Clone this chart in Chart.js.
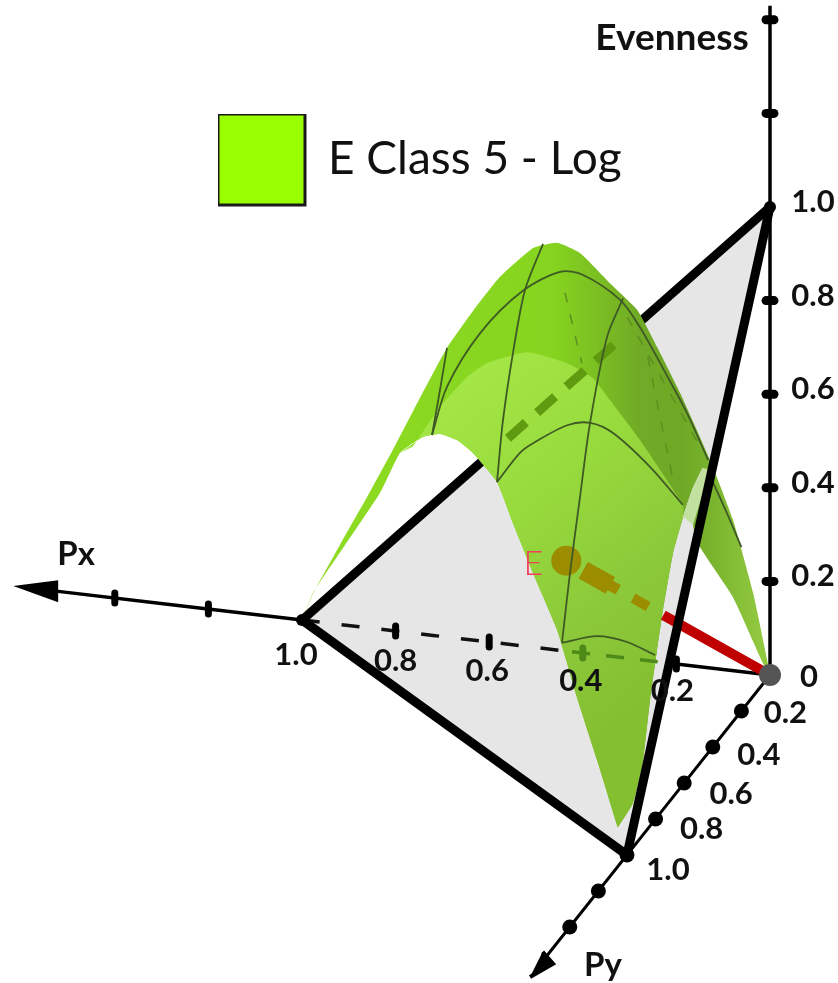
<!DOCTYPE html>
<html>
<head>
<meta charset="utf-8">
<title>E Class 5 - Log</title>
<style>
  body { margin: 0; background: #fff; }
  canvas { display: block; }
</style>
<script src="https://cdn.jsdelivr.net/npm/chart.js@4/dist/chart.umd.min.js"></script>
</head>
<body>
<canvas id="evennessChart" width="838" height="983"></canvas>
<script>
// axis ticks
const axisTicks = [0.2, 0.4, 0.6, 0.8, 1.0];
const axisTicksBeyond = [1.2, 1.4];
const tickLabels = ['0.2', '0.4', '0.6', '0.8', '1.0'];

// surface edge over Py = 0, from Px = 1 to the origin
const backArchPx = [1, .976, .919, .863, .806, .748, .690, .630, .577, .506, .455, .406, .342, .284, .241, .192, .128, .079, .036, .006, 0];
const backArchE = [0, .060, .170, .275, .386, .504, .618, .710, .783, .853, .870, .854, .797, .747, .672, .580, .444, .322, .171, .031, 0];

// surface edge over Px = 0, lower part seen right of the black line
const stripPy = [.049, .259, .490, .538];
const stripE = [.044, .266, .462, .528];

// surface edge over Px = 0, upper part down to the Py = 1 corner
const frontRightPy = [.469, .545, .608, .678, .748, .790, .839, .888, .958, 1];
const frontRightPx = [0, 0, 0, 0, 0, 0, 0, 0, 0, .02];
const frontRightE = [.623, .605, .572, .521, .427, .357, .269, .160, .095, .056];

// surface edge over Px + Py = 1
const frontLeftPx = [1, .966, .760, .698, .628, .575, .523, .474, .400, .351, .289, .215, .154, .092, .028];
const frontLeftE = [0, .075, .392, .509, .578, .611, .624, .621, .596, .533, .457, .373, .260, .157, .044];

// lighter lobe of the surface, its top edge at Py = 0.4
const lobePx = [.641, .583, .525, .482, .397, .312, .256, .220, .156, .064];
const lobeE = [.566, .658, .729, .764, .797, .784, .758, .716, .638, .510];

// mesh lines on the surface
const meshPy04Px = [.600, .568, .497, .406, .326, .277, .198, .156, .102, .055, .010];
const meshPy04E = [.596, .703, .826, .927, .977, .976, .932, .879, .789, .707, .612];
const meshPy06Px = [.400, .351, .323, .250, .201, .152, .073, .003];
const meshPy06E = [.596, .664, .688, .735, .746, .730, .667, .594];
const meshPy08Px = [.200, .125, .061, .001];
const meshPy08E = [.353, .376, .371, .350];
const meshPy02Px = [.061, .029, 0];
const meshPy02E = [.482, .415, .350];
const meshPx04Py = [.278, .404, .488, .558, .600];
const meshPx04E = [.981, .931, .829, .712, .596];
const meshPx02Py = [.373, .485, .604, .674, .744, .800];
const meshPx02E = [.925, .885, .747, .616, .481, .353];
const meshPx06Py = [.295, .344, .400];
const meshPx06E = [.742, .671, .596];

// mesh seen through the surface, at Py = 0.2
const hiddenPx = [[.377, .341], [.200, .146], [.244, .088]];
const hiddenE = [[.849, .703], [.733, .476], [.813, .554]];

// the E point
const pointPx = 1 / 3;
const pointPy = 1 / 3;
const pointE = 1 / 3;

const arrowPxPx = [1.617, 1.521, 1.521];
const arrowPxE = [0, .024, -.023];
const arrowPyPx = [0, -.004, 0];
const arrowPyPy = [1.678, 1.530, 1.590];
const arrowPyE = [0, -.028, .020];

const legendLabel = 'E Class 5 - Log';

function project(px, py, e) {
    return { x: -px - 0.3056 * py, y: 0.1175 * px - 0.3846 * py + e };
}

function curve(pxs, pys, es) {
    return es.map((e, i) => project(
        Array.isArray(pxs) ? pxs[i] : pxs,
        Array.isArray(pys) ? pys[i] : pys,
        e
    ));
}

// part of a straight line between two 3D points
function piece(from, to, t0, t1) {
    const at = t => project(
        from[0] + (to[0] - from[0]) * t,
        from[1] + (to[1] - from[1]) * t,
        from[2] + (to[2] - from[2]) * t
    );
    return [at(t0), at(t1)];
}

const ORIGIN = [0, 0, 0];
const CORNER_X = [1, 0, 0];
const CORNER_Y = [0, 1, 0];
const CORNER_E = [0, 0, 1];
const E_POINT = [pointPx, pointPy, pointE];

const canvas = document.getElementById('evennessChart');
const ctx = canvas.getContext('2d');

const backFill = ctx.createLinearGradient(300, 0, 760, 0);
backFill.addColorStop(0, '#8edc22');
backFill.addColorStop(0.55, '#86d41f');
backFill.addColorStop(0.74, '#70aa26');
backFill.addColorStop(0.83, '#6fa824');
backFill.addColorStop(0.9, '#7bb52e');
backFill.addColorStop(1, '#90c840');

const lobeFill = ctx.createLinearGradient(430, 350, 690, 660);
lobeFill.addColorStop(0, '#a8ea48');
lobeFill.addColorStop(0.45, '#97da3c');
lobeFill.addColorStop(0.75, '#8cc93a');
lobeFill.addColorStop(1, '#84bf30');

const polygon = (data, color, smooth, border) => ({
    data, showLine: true, fill: 'shape', backgroundColor: color,
    borderColor: color, borderWidth: border || 0, pointRadius: 0, tension: smooth || 0
});
const stroke = (data, color, width, dash) => ({
    data, showLine: true, fill: false, borderColor: color, borderWidth: width,
    borderDash: dash || [], pointRadius: 0, tension: 0.3, borderCapStyle: 'butt'
});
const dots = (data, radius, color) => ({
    data, showLine: false, pointRadius: radius, pointBorderWidth: 0, pointBackgroundColor: color
});
// short rounded bar across an axis at a tick, half lengths in view units
const tickBar = (at, halfX, halfY, width) => ({
    data: [{ x: at.x - halfX, y: at.y - halfY }, { x: at.x + halfX, y: at.y + halfY }],
    showLine: true, fill: false, borderColor: '#000', borderWidth: width,
    borderCapStyle: 'round', pointRadius: 0
});
const pxTick = v => tickBar(project(v, 0, 0), 0, 0.0107, 7);
const eTick = v => tickBar(project(0, 0, v), 0.0085, 0, 9);

const frontLeftRev = curve(frontLeftPx, frontLeftPx.map(p => 1 - p), frontLeftE).reverse();
const frontRight = curve(frontRightPx, frontRightPy, frontRightE);

const surfaceOutline = [
    ...curve(backArchPx, 0, backArchE),
    ...curve(0, stripPy, stripE),
    ...frontRight,
    ...frontLeftRev
];
const lobeOutline = [
    ...curve(lobePx, 0.4, lobeE),
    ...frontRight.slice(2),
    ...frontLeftRev.slice(0, 12)
];
const gapPatch = [
    ...frontRight.slice(0, 3),
    project(0, stripPy[3], stripE[3]),
    project(0, 0.42, 0.599)
];

// listed from back to front
const layers = [
    polygon([project(...CORNER_X), project(...CORNER_Y), project(...CORNER_E)], '#e6e6e6'),
    stroke(piece(ORIGIN, CORNER_X, 1, 1.53), '#000', 3.5),
    polygon(curve(arrowPxPx, 0, arrowPxE), '#000'),
    ...axisTicksBeyond.map(pxTick),
    stroke(piece(CORNER_X, ORIGIN, 0, 0.56), '#111', 3.5, [18, 22]),
    pxTick(axisTicks[3]),
    pxTick(axisTicks[2]),
    stroke(piece(CORNER_X, CORNER_E, 0, 1), '#000', 9),
    stroke(piece(ORIGIN, CORNER_X, 0, 0.2), '#000', 3.5),
    pxTick(axisTicks[0]),

    polygon(surfaceOutline, backFill, 0.15),
    polygon(lobeOutline, lobeFill, 0.15),
    polygon(gapPatch, '#c2e0a0'),

    stroke(piece(CORNER_X, CORNER_E, 0.44, 0.69), '#5f9a10', 9, [24, 15]),
    stroke(piece(ORIGIN, CORNER_X, 0.24, 0.44), '#4d8a18', 3.5, [18, 16]),
    { ...pxTick(axisTicks[1]), borderColor: '#4d8a18' },
    ...hiddenPx.map((px, i) => stroke(curve(px, 0.2, hiddenE[i]), '#5d8f20', 1.5, [10, 12])),

    stroke(piece(ORIGIN, E_POINT, 0.598, 0.672), '#9c8c00', 10),
    stroke(piece(ORIGIN, E_POINT, 0.745, 0.80), '#9c8c00', 11),
    stroke(piece(ORIGIN, E_POINT, 0.784, 0.917), '#9c8c00', 19),
    dots([project(...E_POINT)], 15, '#9c8c00'),

    stroke(curve(meshPy04Px, 0.4, meshPy04E), '#3f5a24', 1.8),
    stroke(curve(meshPy06Px, 0.6, meshPy06E), '#3f5a24', 1.8),
    stroke(curve(meshPy08Px, 0.8, meshPy08E), '#3f5a24', 1.8),
    stroke(curve(meshPy02Px, 0.2, meshPy02E), '#3f5a24', 1.8),
    stroke(curve(0.4, meshPx04Py, meshPx04E), '#3f5a24', 1.8),
    stroke(curve(0.2, meshPx02Py, meshPx02E), '#3f5a24', 1.8),
    stroke(curve(0.6, meshPx06Py, meshPx06E), '#3f5a24', 1.8),

    stroke(piece(ORIGIN, E_POINT, 0, 0.524), '#c00000', 10),

    stroke(piece(CORNER_X, CORNER_Y, 0, 1), '#000', 9),
    stroke(piece(CORNER_Y, CORNER_E, 0, 1), '#000', 9),
    stroke(piece(ORIGIN, CORNER_E, 0, 1.43), '#000', 3.5),
    ...axisTicks.slice(0, 4).concat(axisTicksBeyond).map(eTick),
    stroke(piece(ORIGIN, CORNER_Y, 0, 1.56), '#000', 3),
    polygon(curve(arrowPyPx, arrowPyPy, arrowPyE), '#000', 0, 4),
    dots(axisTicks.concat(axisTicksBeyond).map(v => project(0, v, 0)), 7.5, '#000'),
    dots([project(...CORNER_X), project(...CORNER_Y), project(...CORNER_E)], 6, '#000'),
    dots([project(...ORIGIN)], 11, '#555')
];

// legend swatch only
const legendEntry = { label: legendLabel, data: [], backgroundColor: '#99ff00', borderColor: '#1a1a1a', borderWidth: 3 };

const textPlugin = {
    id: 'axisText',
    afterDatasetsDraw(chart) {
        const { ctx, scales } = chart;
        const put = (text, at, dx, dy, font, color) => {
            ctx.font = font;
            ctx.fillStyle = color || '#111';
            ctx.fillText(text, scales.x.getPixelForValue(at.x) + dx, scales.y.getPixelForValue(at.y) + dy);
        };
        const bold = 'bold 31px Lato';
        ctx.save();
        ctx.textAlign = 'center';
        ctx.textBaseline = 'middle';
        const pxNudge = [[-4, 27], [-2, 28], [-2, 29], [0, 30], [-6, 35]];
        const pyNudge = [[44, 2], [46, 8], [47, 11], [46, 10], [41, 15]];
        tickLabels.forEach((label, i) => {
            const v = axisTicks[i];
            put(label, project(v, 0, 0), pxNudge[i][0], pxNudge[i][1], bold);
            put(label, project(0, v, 0), pyNudge[i][0], pyNudge[i][1], bold);
            put(label, project(0, 0, v), 43, -5, bold);
        });
        put('0', project(0, 0, 0), 39, 2, bold);
        put('Evenness', project(0, 0, 1.36), -98, 0, 'bold 37px Lato');
        put('Px', project(1.6, 0, 0), 55, -33, 'bold 33px Lato');
        put('Py', project(0, 1.65, 0), 69, -7, 'bold 33px Lato');
        put('E', project(...E_POINT), -33, 3, '300 34px Lato', '#f0405a');
        ctx.restore();
    }
};

// the legend sits inside the drawing, next to the surface
const legendPlacer = {
    id: 'legendPlacer',
    afterLayout(chart) {
        const legend = chart.legend;
        const { width, height } = legend;
        legend.left = 218;
        legend.top = 114;
        legend.right = 218 + width;
        legend.bottom = 114 + height;
    }
};

new Chart(canvas, {
    type: 'scatter',
    data: { datasets: [legendEntry, ...layers.slice().reverse()] },
    options: {
        responsive: false,
        animation: false,
        events: [],
        layout: { padding: 0, autoPadding: false },
        scales: {
            x: { type: 'linear', display: false, min: -1.6453, max: 0.1453 },
            y: { type: 'linear', display: false, min: -0.6581, max: 1.4423 }
        },
        plugins: {
            tooltip: { enabled: false },
            legend: {
                position: 'chartArea',
                align: 'start',
                labels: {
                    boxWidth: 87,
                    boxHeight: 91,
                    padding: 0,
                    color: '#111',
                    font: { family: 'Lato', size: 46 },
                    filter: item => item.text === legendLabel
                }
            }
        }
    },
    plugins: [textPlugin, legendPlacer]
});
</script>
</body>
</html>
